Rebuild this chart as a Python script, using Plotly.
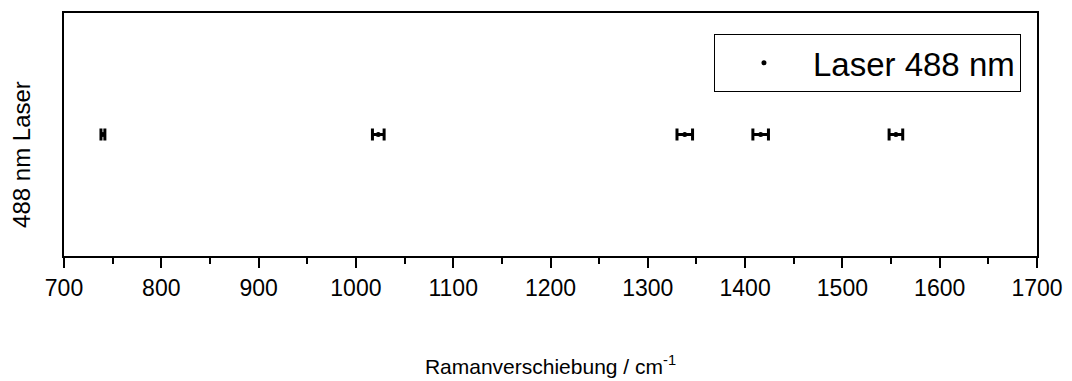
import plotly.graph_objects as go

# Raman band positions (cm^-1) measured with the 488 nm laser, with their uncertainties
shifts = [740, 1023, 1338, 1416, 1555]
shift_err = [2, 6, 8, 8, 7]
row = [1, 1, 1, 1, 1]

x_ticks = [700, 800, 900, 1000, 1100, 1200, 1300, 1400, 1500, 1600, 1700]

font_family = "Liberation Sans, Arial, sans-serif"

fig = go.Figure()
fig.add_trace(go.Scatter(
    x=shifts,
    y=row,
    mode="markers",
    name="Laser 488 nm",
    marker=dict(color="black", size=5),
    error_x=dict(type="data", array=shift_err, visible=True,
                 color="black", thickness=3, width=6),
))

fig.update_layout(
    width=1072,
    height=381,
    margin=dict(l=64, r=35, t=13, b=125),
    paper_bgcolor="white",
    plot_bgcolor="white",
    font=dict(family=font_family, color="black"),
    showlegend=True,
    legend=dict(
        x=0.9835, y=0.914, xanchor="right", yanchor="top",
        bgcolor="white", bordercolor="black", borderwidth=1,
        font=dict(size=33, family=font_family),
        itemwidth=88,
    ),
    xaxis=dict(
        range=[700, 1700],
        tickvals=x_ticks,
        ticktext=[str(v) for v in x_ticks],
        ticks="outside", ticklen=10, tickwidth=2, tickcolor="black",
        minor=dict(dtick=50, tick0=700, ticks="outside", ticklen=6,
                   tickwidth=2, tickcolor="black", showgrid=False),
        showline=True, linecolor="black", linewidth=2, mirror=True,
        showgrid=False, zeroline=False,
        automargin=False,
        tickfont=dict(size=23),
        title=dict(text="Ramanverschiebung / cm<sup>-1</sup>",
                   font=dict(size=21), standoff=60),
    ),
    yaxis=dict(
        range=[0, 2],
        showticklabels=False, ticks="",
        showline=True, linecolor="black", linewidth=2, mirror=True,
        showgrid=False, zeroline=False,
        automargin=False,
    ),
    annotations=[dict(
        text="488 nm Laser",
        xref="paper", yref="paper",
        x=-0.0432, y=0.42, xanchor="center", yanchor="middle",
        textangle=-90, showarrow=False,
        font=dict(size=24, family=font_family),
    )],
)

fig.write_html("out.html")
